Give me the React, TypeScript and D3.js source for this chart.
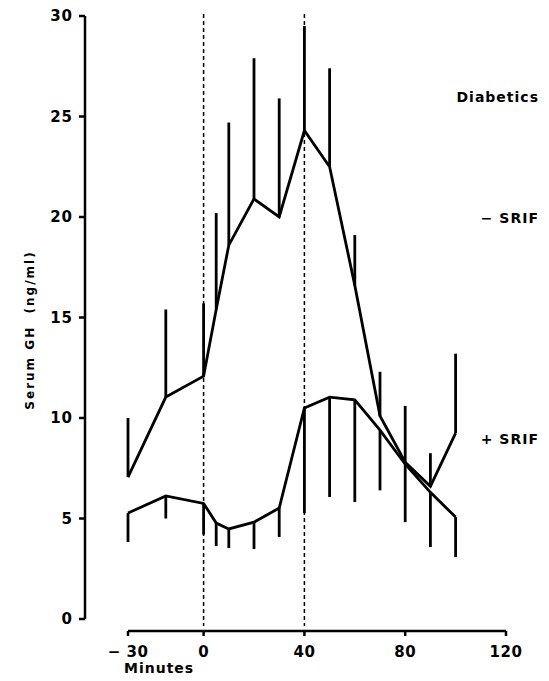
import React, { useEffect, useRef } from 'react';
import * as d3 from 'd3';

// data ---------------------------------------------------------------
const minutes = [-30, -15, 0, 5, 10, 20, 30, 40, 50, 60, 70, 80, 90, 100];

// - SRIF (error bars drawn upward)
const noSrifMean = [7.06, 11.04, 12.08, 15.4, 18.6, 20.9, 20.0, 24.3, 22.5, 16.6, 10.1, 7.8, 6.6, 9.25];
const noSrifUpper = [10.0, 15.4, 15.7, 20.2, 24.7, 27.9, 25.9, 29.5, 27.4, 19.1, 12.3, 10.6, 8.25, 13.2];

// + SRIF (error bars drawn downward)
const srifMean = [5.27, 6.12, 5.75, 4.77, 4.48, 4.82, 5.52, 10.5, 11.04, 10.9, 9.4, 7.7, 6.3, 5.07];
const srifLower = [3.83, 5.0, 4.2, 3.63, 3.53, 3.48, 4.08, 5.27, 6.07, 5.82, 6.4, 4.82, 3.58, 3.08];

const xTicks = [-30, 0, 40, 80, 120];
const yTicks = [0, 5, 10, 15, 20, 25, 30];
const markerLines = [0, 40];

const FONT = '"DejaVu Sans", sans-serif';

const App = () => {
    const [width, height] = [549, 681];
    const ref = useRef<SVGSVGElement>(null);

    useEffect(() => {
        const svg = d3.select(ref.current);
        svg.selectAll('*').remove();

        const x = d3.scaleLinear().domain([-30, 120]).range([128, 506]);
        const y = d3.scaleLinear().domain([0, 30]).range([619, 16]);
        const axisY = 631;
        const axisX = 85;

        // y axis (detached, ends at 0)
        svg.append('line')
            .attr('x1', axisX).attr('x2', axisX)
            .attr('y1', y(30)).attr('y2', y(0))
            .attr('stroke', '#000').attr('stroke-width', 2.5);
        svg.selectAll('.ytick')
            .data(yTicks)
            .enter()
            .append('line')
            .attr('x1', axisX - 6).attr('x2', axisX)
            .attr('y1', (d) => y(d)).attr('y2', (d) => y(d))
            .attr('stroke', '#000').attr('stroke-width', 2.5);
        svg.selectAll('.ylab')
            .data(yTicks)
            .enter()
            .append('text')
            .attr('x', axisX - 12)
            .attr('y', (d) => y(d))
            .attr('dy', '0.36em')
            .attr('text-anchor', 'end')
            .attr('font-family', FONT)
            .attr('font-weight', 'bold')
            .attr('font-size', 15)
            .attr('letter-spacing', 1)
            .text((d) => d);

        // x axis (detached, starts at -30)
        svg.append('line')
            .attr('x1', x(-30)).attr('x2', x(120))
            .attr('y1', axisY).attr('y2', axisY)
            .attr('stroke', '#000').attr('stroke-width', 2.5);
        svg.selectAll('.xtick')
            .data(xTicks)
            .enter()
            .append('line')
            .attr('x1', (d) => x(d)).attr('x2', (d) => x(d))
            .attr('y1', axisY).attr('y2', axisY + 5)
            .attr('stroke', '#000').attr('stroke-width', 2.5);
        svg.selectAll('.xlab')
            .data(xTicks)
            .enter()
            .append('text')
            .attr('x', (d) => x(d))
            .attr('y', axisY + 21)
            .attr('dy', '0.36em')
            .attr('text-anchor', 'middle')
            .attr('font-family', FONT)
            .attr('font-weight', 'bold')
            .attr('font-size', 15)
            .attr('letter-spacing', 0.5)
            .attr('xml:space', 'preserve')
            .text((d) => (d < 0 ? `\u2212 ${Math.abs(d)}` : `${d}`));

        svg.append('text')
            .attr('x', 124)
            .attr('y', 668)
            .attr('dy', '0.36em')
            .attr('font-family', FONT)
            .attr('font-weight', 'bold')
            .attr('font-size', 14)
            .attr('letter-spacing', 1)
            .text('Minutes');

        svg.append('text')
            .attr('transform', `translate(30, 330) rotate(-90)`)
            .attr('text-anchor', 'middle')
            .attr('dy', '0.36em')
            .attr('font-family', FONT)
            .attr('font-weight', 'bold')
            .attr('font-size', 12)
            .attr('letter-spacing', 2)
            .attr('xml:space', 'preserve')
            .text('Serum GH  (ng/ml)');

        // dashed markers at 0 and 40 min
        svg.selectAll('.marker')
            .data(markerLines)
            .enter()
            .append('line')
            .attr('x1', (d) => x(d)).attr('x2', (d) => x(d))
            .attr('y1', y(30.1)).attr('y2', y(-0.35))
            .attr('stroke', '#000').attr('stroke-width', 1.5)
            .attr('stroke-dasharray', '4,3');

        // error bars
        const bars = svg.append('g').attr('stroke', '#000').attr('stroke-width', 2.8);
        minutes.forEach((m, i) => {
            bars.append('line')
                .attr('x1', x(m)).attr('x2', x(m))
                .attr('y1', y(noSrifMean[i])).attr('y2', y(noSrifUpper[i]));
            bars.append('line')
                .attr('x1', x(m)).attr('x2', x(m))
                .attr('y1', y(srifMean[i])).attr('y2', y(srifLower[i]));
        });

        // the two curves
        const line = d3.line<number>()
            .x((d, i) => x(minutes[i]))
            .y((d) => y(d));
        [noSrifMean, srifMean].forEach((series) => {
            svg.append('path')
                .datum(series)
                .attr('d', line)
                .attr('fill', 'none')
                .attr('stroke', '#000')
                .attr('stroke-width', 2.8)
                .attr('stroke-linejoin', 'miter');
        });

        // labels
        const labels = [
            { text: 'Diabetics', y: 97 },
            { text: '\u2212 SRIF', y: 218 },
            { text: '+ SRIF', y: 439 },
        ];
        svg.selectAll('.lbl')
            .data(labels)
            .enter()
            .append('text')
            .attr('x', 539)
            .attr('y', (d) => d.y)
            .attr('dy', '0.36em')
            .attr('text-anchor', 'end')
            .attr('font-family', FONT)
            .attr('font-weight', 'bold')
            .attr('font-size', 14)
            .attr('letter-spacing', 1)
            .attr('xml:space', 'preserve')
            .text((d) => d.text);
    }, []);

    return (
        <div style={{ position: 'absolute', left: 0, top: 0 }}>
            <svg ref={ref} width={width} height={height} style={{ display: 'block', background: '#fff' }}></svg>
        </div>
    );
};

export default App;
